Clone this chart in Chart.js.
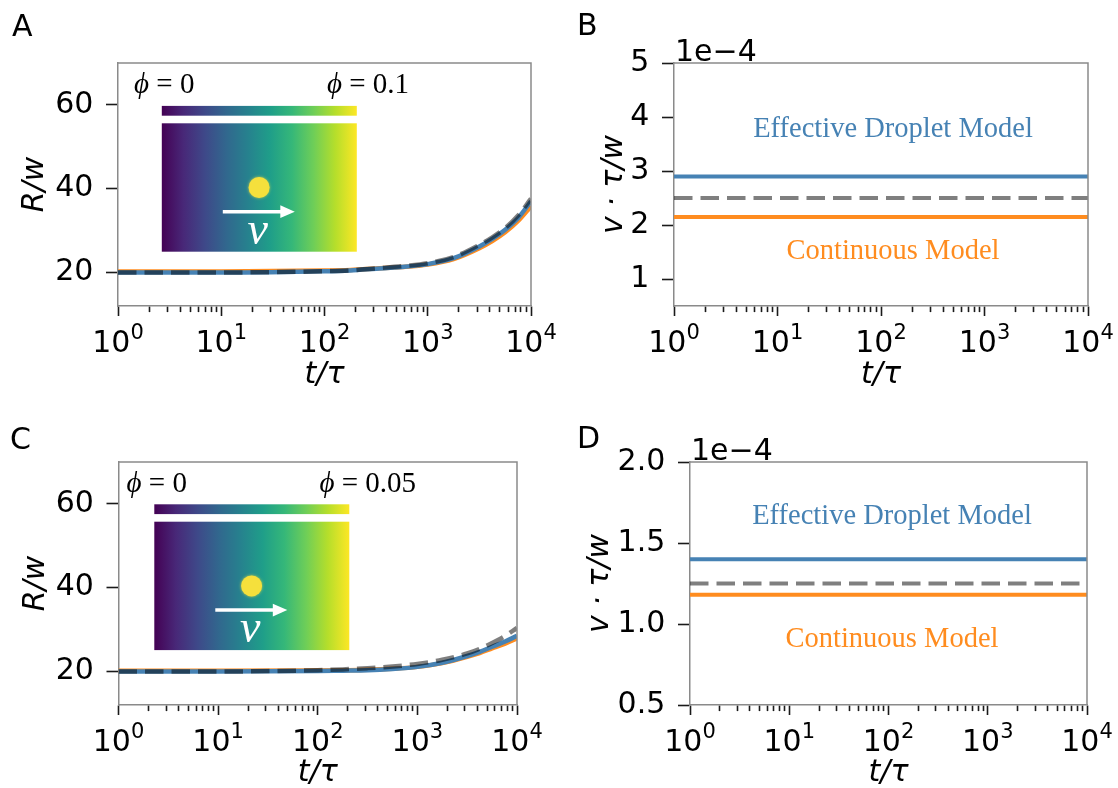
<!DOCTYPE html>
<html>
<head>
<meta charset="utf-8">
<script src="https://cdn.jsdelivr.net/npm/chart.js@4.4.0/dist/chart.umd.min.js"></script>
<style>
  html, body { margin: 0; padding: 0; background: #fff; }
  #wrap { position: relative; width: 1118px; height: 788px; }
  canvas { position: absolute; }
</style>
</head>
<body>
<div id="wrap">
  <canvas id="panelA" width="559" height="394" style="left:0;top:0"></canvas>
  <canvas id="panelB" width="559" height="394" style="left:559px;top:0"></canvas>
  <canvas id="panelC" width="559" height="394" style="left:0;top:394px"></canvas>
  <canvas id="panelD" width="559" height="394" style="left:559px;top:394px"></canvas>
</div>
<script>
// time (t / tau)
const tCurve = [1, 10, 100, 178, 316, 562, 1000, 1778, 3162, 4217, 5623, 7499, 10000];
const tFlat = [1, 10000];
const tMajor = [1, 10, 100, 1000, 10000];

// droplet radius R/w, phi gradient 0 -> 0.1
const radiusDropletA    = [20.0, 20.0, 20.3, 20.5, 20.9, 21.3, 22.0, 23.4, 26.2, 28.0, 30.2, 33.0, 37.0];
const radiusContinuousA = [20.25, 20.25, 20.45, 20.6, 20.95, 21.3, 21.9, 23.2, 25.8, 27.5, 29.6, 32.3, 35.8];
const radiusTheoryA     = [20.0, 20.0, 20.3, 20.5, 21.0, 21.5, 22.2, 23.7, 26.6, 28.4, 30.6, 33.6, 37.6];

// droplet radius R/w, phi gradient 0 -> 0.05
const radiusDropletC    = [20.0, 20.0, 20.1, 20.2, 20.3, 20.6, 21.1, 22.1, 23.7, 24.7, 25.9, 27.1, 28.5];
const radiusContinuousC = [20.2, 20.2, 20.25, 20.3, 20.4, 20.65, 21.1, 22.0, 23.5, 24.4, 25.5, 26.6, 27.9];
const radiusTheoryC     = [20.0, 20.0, 20.3, 20.5, 20.8, 21.2, 21.8, 22.8, 24.3, 25.4, 26.8, 28.4, 30.4];

// drift velocity v*tau/w
const velocityDropletB = [2.9e-4, 2.9e-4];
const velocityContinuousB = [2.15e-4, 2.15e-4];
const velocityTheoryB = [2.5e-4, 2.5e-4];
const velocityDropletD = [1.4e-4, 1.4e-4];
const velocityContinuousD = [1.18e-4, 1.18e-4];
const velocityTheoryD = [1.25e-4, 1.25e-4];

const radiusTicks = [20, 40, 60];
const velocityTicksB = [1e-4, 2e-4, 3e-4, 4e-4, 5e-4];
const velocityTicksD = [0.5e-4, 1e-4, 1.5e-4, 2e-4];

const BLUE = '#4682b4';
const ORANGE = '#ff8c1f';
const DASHED = 'rgba(0,0,0,0.5)';
const SPINE = '#8a8a8a';
const TICK = '#1a1a1a';
const SANS = '"DejaVu Sans"';
const SERIF = '"Liberation Serif"';
const FS = 30;
const viridis = ['#440154', '#482878', '#3e4989', '#31688e', '#26828e',
                 '#1f9e89', '#35b779', '#6ece58', '#b5de2b', '#fde725'];

// log axis ticks: decades plus 2..9 minors
const tAllTicks = [];
tMajor.forEach((m, i) => {
  tAllTicks.push(m);
  if (i < tMajor.length - 1) for (let k = 2; k < 10; k++) tAllTicks.push(m * k);
});

function drawInset(ctx, area, ins) {
  const x0 = area.left + ins.dx, y0 = area.top + ins.dy;
  const w = 195, h = 128.4;
  const g = ctx.createLinearGradient(x0, 0, x0 + w, 0);
  viridis.forEach((c, i) => g.addColorStop(i / (viridis.length - 1), c));
  ctx.save();
  ctx.fillStyle = g;
  ctx.fillRect(x0, y0 - 17.4, w, 9.8);   // colour bar
  ctx.fillRect(x0, y0, w, h);            // concentration field
  // droplet
  ctx.fillStyle = '#f5e03c';
  ctx.shadowColor = 'rgba(245,224,60,0.8)';
  ctx.shadowBlur = 3;
  ctx.beginPath();
  ctx.arc(x0 + 97.3, y0 + 64.2, 10.5, 0, Math.PI * 2);
  ctx.fill();
  ctx.shadowBlur = 0;
  // velocity arrow
  ctx.strokeStyle = '#fff';
  ctx.fillStyle = '#fff';
  ctx.lineWidth = 3.5;
  ctx.beginPath();
  ctx.moveTo(x0 + 61, y0 + 88.4);
  ctx.lineTo(x0 + 120, y0 + 88.4);
  ctx.stroke();
  ctx.beginPath();
  ctx.moveTo(x0 + 133, y0 + 88.4);
  ctx.lineTo(x0 + 118.5, y0 + 82);
  ctx.lineTo(x0 + 118.5, y0 + 94.8);
  ctx.closePath();
  ctx.fill();
  ctx.font = 'italic 46px ' + SERIF;
  ctx.textAlign = 'center';
  ctx.textBaseline = 'alphabetic';
  ctx.fillText('v', x0 + 96, y0 + 120.5);
  // colour bar end labels
  ctx.fillStyle = '#000';
  ctx.textAlign = 'left';
  const phiLabel = (x, val) => {
    ctx.font = 'italic 29px ' + SERIF;
    ctx.fillText('ϕ', x, y0 - 30);
    const wp = ctx.measureText('ϕ').width;
    ctx.font = '29px ' + SERIF;
    ctx.fillText(' = ' + val, x + wp, y0 - 30);
  };
  phiLabel(x0 - 27.7, '0');
  phiLabel(x0 + 165.2, ins.phiMax);
  ctx.restore();
}

function makePanel(p) {
  const canvas = document.getElementById(p.id);
  const W = canvas.width, H = canvas.height;

  const decor = {
    id: 'decor' + p.letter,
    beforeDatasetsDraw(chart) {
      if (p.inset) drawInset(chart.ctx, chart.chartArea, p.inset);
    },
    afterDraw(chart) {
      const ctx = chart.ctx, a = chart.chartArea, xs = chart.scales.x;
      ctx.save();
      // top and right spines
      ctx.strokeStyle = SPINE;
      ctx.lineWidth = 1.5;
      ctx.beginPath();
      ctx.moveTo(a.left, a.top);
      ctx.lineTo(a.right, a.top);
      ctx.lineTo(a.right, a.bottom);
      ctx.stroke();
      // 10^n tick labels
      ctx.fillStyle = '#000';
      ctx.textBaseline = 'alphabetic';
      ctx.textAlign = 'left';
      const base = a.bottom + 45.7;
      const supSize = FS * 0.7;
      tMajor.forEach(v => {
        const e = String(Math.round(Math.log10(v)));
        ctx.font = FS + 'px ' + SANS;
        const wb = ctx.measureText('10').width;
        ctx.font = supSize + 'px ' + SANS;
        const we = ctx.measureText(e).width;
        const x = xs.getPixelForValue(v) - (wb + we) / 2;
        ctx.font = FS + 'px ' + SANS;
        ctx.fillText('10', x, base);
        ctx.font = supSize + 'px ' + SANS;
        ctx.fillText(e, x + wb, base - 13);
      });
      // panel letter
      ctx.font = '30px ' + SANS;
      ctx.fillText(p.letter, p.letterPos[0], p.letterPos[1]);
      // axis offset text
      if (p.offsetText) {
        ctx.font = FS + 'px ' + SANS;
        ctx.fillText(p.offsetText, a.left + 1, a.top - 2);
      }
      // model labels
      if (p.notes) {
        ctx.font = '28.5px ' + SERIF;
        ctx.textAlign = 'center';
        p.notes.forEach(n => {
          ctx.fillStyle = n.color;
          ctx.fillText(n.text, n.x, n.y);
        });
      }
      ctx.restore();
    }
  };

  const lineStyles = [
    { color: DASHED, dash: [18.5, 8] },
    { color: BLUE, dash: [] },
    { color: ORANGE, dash: [] }
  ];

  return new Chart(canvas, {
    type: 'line',
    data: {
      datasets: p.series.map((ys, i) => ({
        data: ys.map((y, j) => ({ x: p.x[j], y: y })),
        borderColor: lineStyles[i].color,
        borderDash: lineStyles[i].dash,
        borderWidth: p.lineWidth,
        pointRadius: 0,
        cubicInterpolationMode: 'monotone',
        fill: false
      }))
    },
    options: {
      responsive: false,
      animation: false,
      devicePixelRatio: 1,
      layout: { padding: { left: 0, top: p.area.top, right: W - p.area.right, bottom: 0 } },
      plugins: { legend: { display: false }, tooltip: { enabled: false } },
      scales: {
        x: {
          type: 'logarithmic',
          min: 1,
          max: 10000,
          afterBuildTicks: s => { s.ticks = tAllTicks.map(v => ({ value: v, major: tMajor.includes(v) })); },
          afterFit: s => { s.height = H - p.area.bottom; },
          ticks: { display: false },
          grid: {
            drawOnChartArea: false,
            tickLength: 10,
            tickWidth: 1.6,
            tickColor: TICK,
            tickBorderDash: c => (c.tick && c.tick.major) ? [] : [5.6, 40]
          },
          border: { color: SPINE, width: 1.5 },
          title: {
            display: true,
            text: 't/τ',
            color: '#000',
            font: { family: 'DejaVu Sans', size: FS, style: 'italic', lineHeight: 1 },
            padding: { top: 0, bottom: p.xTitlePad }
          }
        },
        y: {
          min: p.yMin,
          max: p.yMax,
          afterBuildTicks: s => { s.ticks = p.yTicks.map(v => ({ value: v })); },
          afterFit: s => { s.width = p.area.left; },
          ticks: {
            color: '#000',
            padding: 12.7,
            font: { family: 'DejaVu Sans', size: FS },
            callback: p.yFormat
          },
          grid: { drawOnChartArea: false, tickLength: 12, tickWidth: 1.6, tickColor: TICK },
          border: { color: SPINE, width: 1.5 },
          title: {
            display: true,
            text: p.yTitle,
            color: '#000',
            font: { family: 'DejaVu Sans', size: FS, style: 'italic', lineHeight: 1 },
            padding: { top: p.yTitlePad, bottom: 0 }
          }
        }
      }
    },
    plugins: [decor]
  });
}

const radiusFormat = v => String(v);

makePanel({
  id: 'panelA', letter: 'A', letterPos: [12, 36],
  area: { left: 118, right: 531, top: 63, bottom: 306 },
  x: tCurve, series: [radiusTheoryA, radiusDropletA, radiusContinuousA], lineWidth: 4.5,
  yMin: 12, yMax: 70, yTicks: radiusTicks, yFormat: radiusFormat,
  yTitle: 'R/w', yTitlePad: 20.7, xTitlePad: 4,
  inset: { dx: 43.8, dy: 60.3, phiMax: '0.1' }
});

makePanel({
  id: 'panelB', letter: 'B', letterPos: [18, 35],
  area: { left: 115, right: 529, top: 63, bottom: 306 },
  x: tFlat, series: [velocityTheoryB, velocityDropletB, velocityContinuousB], lineWidth: 4,
  yMin: 0.5e-4, yMax: 5e-4, yTicks: velocityTicksB, yFormat: v => String(Math.round(v * 1e4)),
  yTitle: 'v · τ/w', yTitlePad: 40, xTitlePad: 4,
  offsetText: '1e\u22124',
  notes: [
    { text: 'Effective Droplet Model', color: BLUE, x: 334, y: 136.7 },
    { text: 'Continuous Model', color: ORANGE, x: 334, y: 259.3 }
  ]
});

makePanel({
  id: 'panelC', letter: 'C', letterPos: [10, 55],
  area: { left: 118.5, right: 517, top: 68, bottom: 311 },
  x: tCurve, series: [radiusTheoryC, radiusDropletC, radiusContinuousC], lineWidth: 4.5,
  yMin: 12, yMax: 70, yTicks: radiusTicks, yFormat: radiusFormat,
  yTitle: 'R/w', yTitlePad: 21.6, xTitlePad: 0,
  inset: { dx: 35.8, dy: 59.7, phiMax: '0.05' }
});

makePanel({
  id: 'panelD', letter: 'D', letterPos: [18, 54],
  area: { left: 131, right: 528, top: 68, bottom: 311 },
  x: tFlat, series: [velocityTheoryD, velocityDropletD, velocityContinuousD], lineWidth: 4,
  yMin: 0.5e-4, yMax: 2e-4, yTicks: velocityTicksD, yFormat: v => (v * 1e4).toFixed(1),
  yTitle: 'v · τ/w', yTitlePad: 26, xTitlePad: 0,
  offsetText: '1e\u22124',
  notes: [
    { text: 'Effective Droplet Model', color: BLUE, x: 333, y: 130 },
    { text: 'Continuous Model', color: ORANGE, x: 333, y: 252.7 }
  ]
});
</script>
</body>
</html>
